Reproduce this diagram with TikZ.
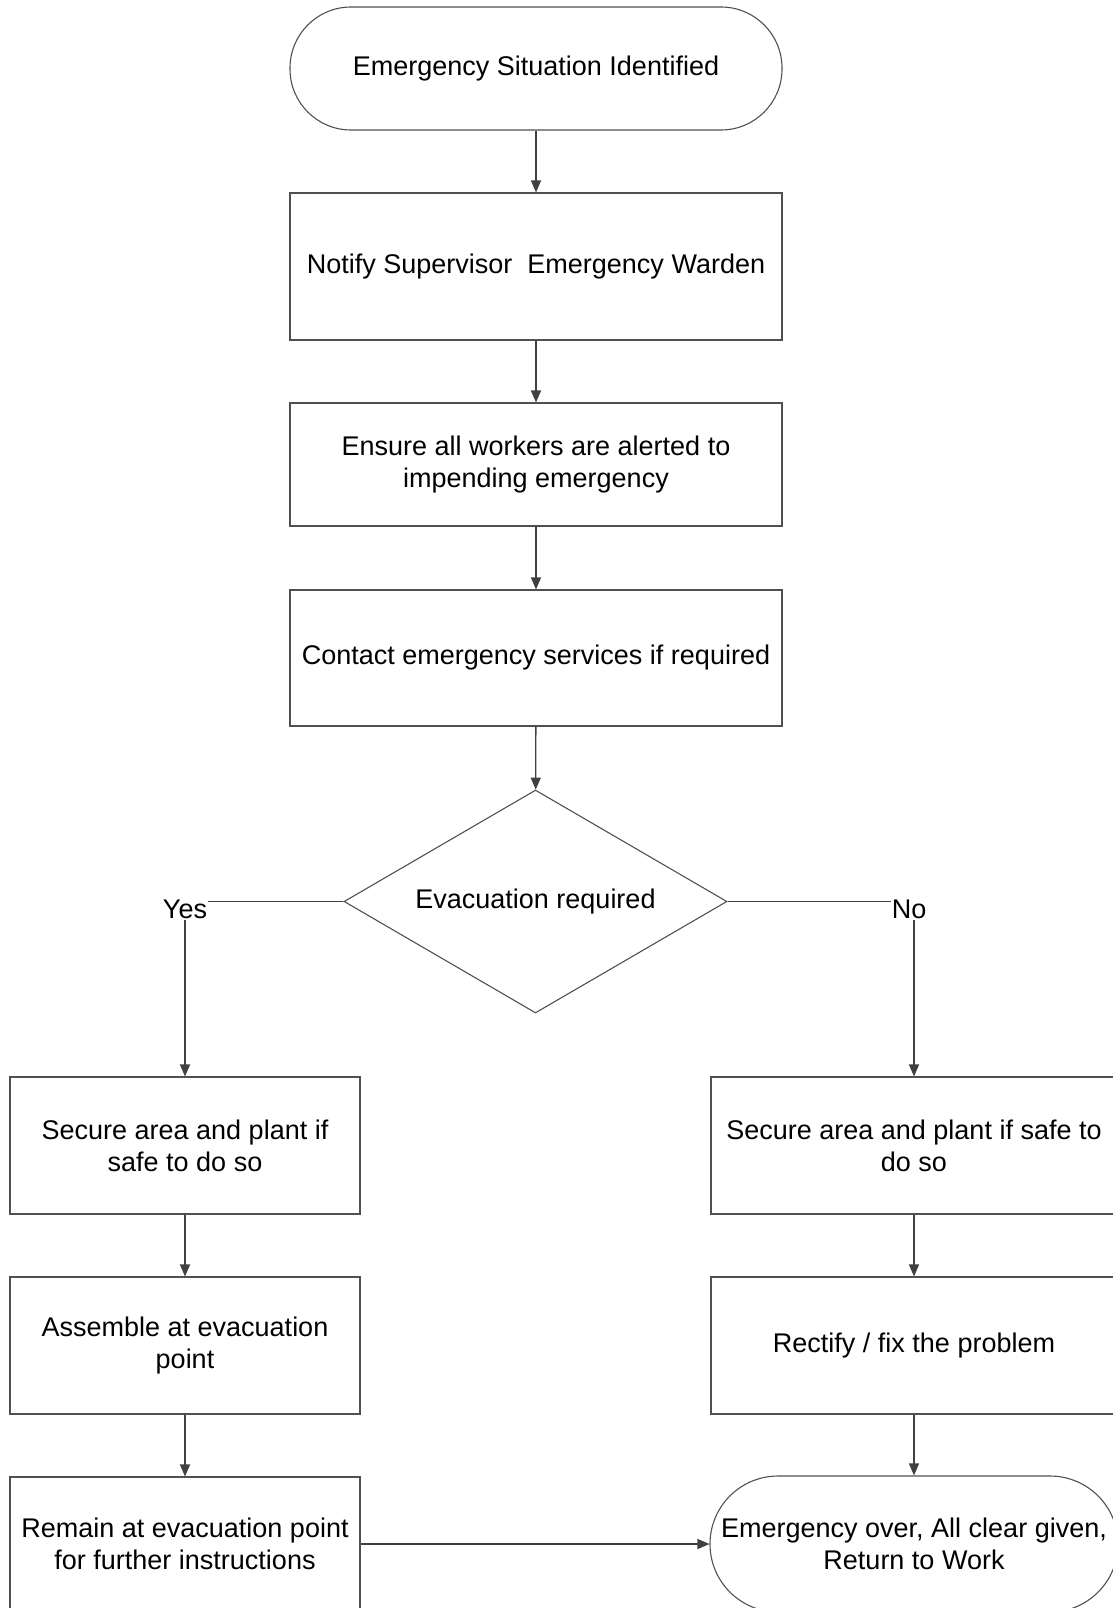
\documentclass[tikz,border=0pt]{standalone}
\usepackage{fontspec}
\setmainfont{Liberation Sans}
\usetikzlibrary{arrows.meta,shapes.geometric}
\definecolor{ln}{HTML}{404040}
\definecolor{bd}{HTML}{505050}
\tikzset{
  base/.style={draw=bd, line width=1.1pt, align=center, inner sep=0pt, font=\fontsize{27}{32}\selectfont, text=black},
  procbox/.style={base, rectangle, minimum width=#1, minimum height=137},
  term/.style={base, rectangle, rounded corners=61pt, minimum width=#1, minimum height=123},
  decide/.style={base, diamond, aspect=1.717, minimum width=383, minimum height=223},
  lbl/.style={inner sep=1pt, font=\fontsize{27}{32}\selectfont, text=black},
  conn/.style={draw=ln, line width=1.3pt},
  arr/.style={conn, -{Triangle[length=12pt, width=10pt]}}
}
\begin{document}
\begin{tikzpicture}[x=1pt, y=-1pt]
\useasboundingbox (0,0) rectangle (1113,1608);
\node[term=492] (t1) at (536,68.5) {Emergency Situation Identified};
\node[procbox=492, minimum height=147] (b2) at (536,266.5) {Notify Supervisor\ \ Emergency Warden};
\node[procbox=492, minimum height=123] (b3) at (536,464.5) {Ensure all workers are alerted to\\impending emergency};
\node[procbox=492, minimum height=136] (b4) at (536,658) {Contact emergency services if required};
\node[decide] (d) at (535.5,901.5) {Evacuation required};
\node[lbl] (yes) at (185,909) {Yes};
\node[lbl] (no) at (909,909) {No};
\node[procbox=350] (l1) at (185,1145.5) {Secure area and plant if\\safe to do so};
\node[procbox=350] (l2) at (185,1345.5) {Assemble at evacuation\\point};
\node[procbox=350, minimum height=134] (l3) at (185,1544) {Remain at evacuation point\\for further instructions};
\node[procbox=406] (r1) at (914,1145.5) {Secure area and plant if safe to\\do so};
\node[procbox=406] (r2) at (914,1345.5) {Rectify / fix the problem};
\node[term=408, minimum height=136, rounded corners=68pt] (t2) at (914,1544) {Emergency over, All clear given,\\Return to Work};
\draw[arr] (t1) -- (b2);
\draw[arr] (b2) -- (b3);
\draw[arr] (b3) -- (b4);
\draw[arr] (b4) -- (d);
\draw[conn] (d.west) -- (d.west -| yes.east);
\draw[conn] (d.east) -- (d.east -| no.west);
\draw[arr] (yes.south -| l1.north) -- (l1.north);
\draw[arr] (no.south -| r1.north) -- (r1.north);
\draw[arr] (l1) -- (l2);
\draw[arr] (l2) -- (l3);
\draw[arr] (r1) -- (r2);
\draw[arr] (r2) -- (t2);
\draw[arr] (l3.east) -- (t2.west);
\end{tikzpicture}
\end{document}
